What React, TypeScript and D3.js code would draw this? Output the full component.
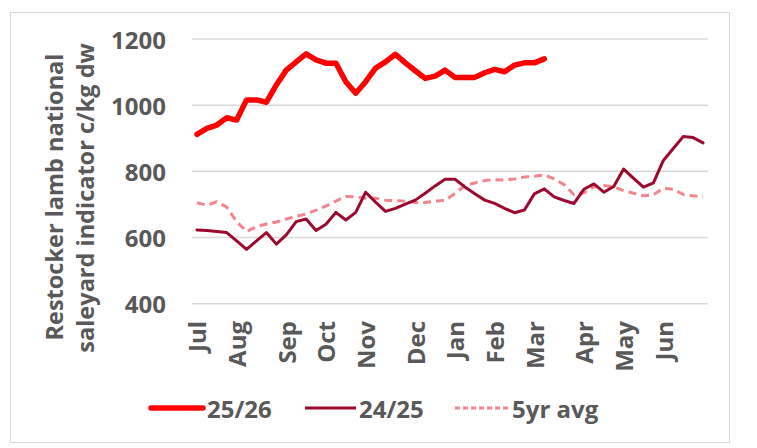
import React from "react";
import * as d3 from "d3";

const weekLabels = [
  "Jul", "", "", "", "Aug", "", "", "", "", "Sep", "", "", "", "Oct", "", "", "",
  "Nov", "", "", "", "", "Dec", "", "", "", "Jan", "", "", "", "Feb", "", "", "",
  "Mar", "", "", "", "", "Apr", "", "", "", "May", "", "", "", "Jun", "", "", "", "",
];

const s2526 = [
  912, 930, 940, 962, 955, 1016, 1016, 1009, 1061, 1106, 1131, 1155, 1137, 1127, 1127, 1071,
  1036, 1071, 1112, 1131, 1154, 1128, 1104, 1081, 1088, 1106, 1084, 1084, 1084, 1098, 1108,
  1101, 1121, 1128, 1128, 1140,
];

const s2425 = [
  623, 621, 618, 615, 590, 564, 590, 615, 580, 608,
  648, 656, 621, 640, 676, 653, 676, 737, 707, 679,
  688, 701, 713, 734, 756, 776, 776, 753, 732, 713,
  703, 688, 675, 683, 732, 747, 723, 712, 703, 746,
  762, 737, 754, 807, 779, 752, 765, 833, 869, 905,
  902, 886,
];

const avg5 = [
  705, 698, 708, 692, 648, 618, 633, 641, 647, 656,
  664, 671, 683, 695, 710, 724, 723, 719, 719, 713,
  711, 710, 706, 706, 710, 712, 733, 757, 765, 772,
  775, 774, 777, 783, 785, 789, 777, 760, 729, 735,
  753, 757, 753, 742, 734, 726, 729, 749, 746, 730,
  726, 723,
];

const yTicks = [400, 600, 800, 1000, 1200];
const seriesNames = ["25/26", "24/25", "5yr avg"];

const W = 757;
const H = 448;
const FONT = "'Open Sans', 'DejaVu Sans', sans-serif";
const TXT = "#595959";
const C2526 = "#FF0000";
const C2425 = "#9B0A2E";
const CAVG = "#F2868C";

export default function App() {
  const x = d3
    .scalePoint<number>()
    .domain(d3.range(weekLabels.length))
    .range([192, 708])
    .padding(0.5);
  const y = d3.scaleLinear().domain([400, 1200]).range([303.7, 39]);

  const line = d3
    .line<number>()
    .x((_, i) => x(i) as number)
    .y((d) => y(d));

  return (
    <svg
      width={W}
      height={H}
      style={{ position: "absolute", left: 0, top: 0, background: "#fff" }}
      fontFamily={FONT}
    >
      <rect x={0} y={0} width={W} height={H} fill="#fff" />
      <rect x={10.5} y={12.5} width={719} height={430} fill="none" stroke="#d9d9d9" strokeWidth={1} />

      {yTicks.map((t) => (
        <g key={t}>
          <line x1={192} x2={708} y1={y(t)} y2={y(t)} stroke="#d9d9d9" strokeWidth={1.5} />
          <text
            x={166}
            y={y(t)}
            textAnchor="end"
            dominantBaseline="central"
            fontSize={24}
            fontWeight={700}
            fill={TXT}
          >
            {t}
          </text>
        </g>
      ))}

      {weekLabels.map((lab, i) =>
        lab ? (
          <text
            key={i}
            transform={`translate(${x(i)},321) rotate(-90)`}
            textAnchor="end"
            dominantBaseline="central"
            fontSize={24}
            fontWeight={700}
            fill={TXT}
          >
            {lab}
          </text>
        ) : null
      )}

      <text
        transform="translate(63,197) rotate(-90)"
        textAnchor="middle"
        fontSize={23.5}
        fontWeight={700}
        fill={TXT}
      >
        Restocker lamb national
      </text>
      <text
        transform="translate(94,198) rotate(-90)"
        textAnchor="middle"
        fontSize={23.5}
        fontWeight={700}
        fill={TXT}
      >
        saleyard indicator c/kg dw
      </text>

      <path
        d={line(avg5) || ""}
        fill="none"
        stroke={CAVG}
        strokeWidth={3}
        strokeDasharray="8,5"
        strokeLinejoin="round"
      />
      <path
        d={line(s2425) || ""}
        fill="none"
        stroke={C2425}
        strokeWidth={3}
        strokeLinejoin="round"
        strokeLinecap="round"
      />
      <path
        d={line(s2526) || ""}
        fill="none"
        stroke={C2526}
        strokeWidth={5.5}
        strokeLinejoin="round"
        strokeLinecap="round"
      />

      {/* legend */}
      <g>
        <line x1={151} x2={203} y1={408} y2={408} stroke={C2526} strokeWidth={5.5} strokeLinecap="round" />
        <text x={207} y={408} dominantBaseline="central" fontSize={24} fontWeight={700} fill={TXT}>
          {seriesNames[0]}
        </text>
        <line x1={305} x2={356} y1={408} y2={408} stroke={C2425} strokeWidth={3} />
        <text x={359} y={408} dominantBaseline="central" fontSize={24} fontWeight={700} fill={TXT}>
          {seriesNames[1]}
        </text>
        <line x1={455} x2={509} y1={408} y2={408} stroke={CAVG} strokeWidth={3} strokeDasharray="5,3" />
        <text x={512} y={408} dominantBaseline="central" fontSize={24} fontWeight={700} fill={TXT}>
          {seriesNames[2]}
        </text>
      </g>
    </svg>
  );
}
